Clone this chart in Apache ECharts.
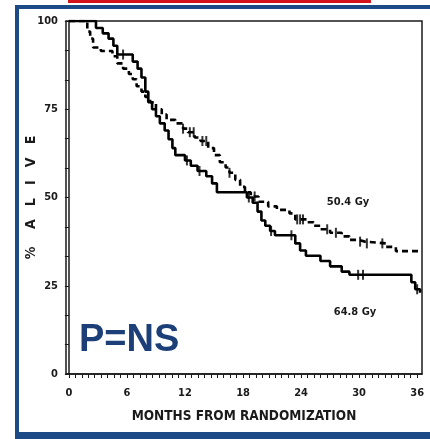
<!DOCTYPE html>
<html>
<head>
<meta charset="utf-8">
<style>
  html, body { margin: 0; padding: 0; background: #ffffff; }
  #chart { width: 430px; height: 439px; }
</style>
<script src="https://cdn.jsdelivr.net/npm/echarts@6/dist/echarts.min.js"></script>
</head>
<body>
<div id="chart"></div>
<script>
// Kaplan–Meier survival by radiation dose arm (months from randomization, % alive)
const months648 = [0, 2.8, 3.5, 4.1, 4.6, 5.0, 6.6, 7.1, 7.5, 7.9, 8.2, 8.6, 9.0, 9.4, 9.9, 10.3, 10.7, 11.0, 12.0, 12.6, 13.3, 14.2, 14.8, 15.3, 18.4, 19.0, 19.5, 19.9, 20.3, 20.8, 21.3, 23.4, 23.9, 24.5, 26.0, 27.0, 28.2, 29.0, 35.4, 35.8, 36.3];
const alive648  = [100, 98, 96.5, 95, 93, 90.5, 88.5, 86.5, 84, 80, 77, 75, 73, 71, 69, 66.5, 64, 62, 60.5, 59, 57.5, 56, 54, 51.5, 50, 48.5, 46, 43.5, 42, 40.5, 39.3, 37, 35, 33.5, 32, 30.5, 29, 28.1, 26, 24, 23];
const censor648 = [5.6, 12.2, 13.5, 18.6, 20.9, 23.0, 29.9, 30.4, 36.0];

const months504 = [0, 1.9, 2.2, 2.5, 3.3, 4.5, 5.0, 5.6, 6.2, 6.6, 7.0, 7.5, 7.9, 8.4, 9.0, 9.6, 10.1, 11.0, 11.8, 12.3, 13.0, 13.6, 14.4, 15.0, 15.6, 16.2, 16.6, 17.2, 17.7, 18.2, 18.8, 19.6, 20.6, 21.5, 22.8, 23.4, 24.6, 25.3, 26.0, 27.0, 28.2, 29.0, 29.9, 30.6, 32.8, 33.8, 36.3];
const alive504  = [100, 97, 95, 92.5, 91.5, 90, 88, 86.5, 85, 83.5, 81.5, 80, 78.5, 77, 75, 73.5, 72, 71, 69.5, 68.5, 67, 66, 64, 62, 60, 58.5, 57, 55, 53, 51.5, 50.3, 48.8, 47.5, 46.5, 45.5, 43.8, 43, 42, 41, 40, 39, 38, 37.5, 37, 36, 34.8, 34.8];
const censor504 = [8.2, 11.8, 12.5, 12.9, 13.8, 14.2, 16.6, 19.2, 23.6, 23.9, 24.2, 26.7, 27.6, 30.1, 30.8, 32.4];

const xLabelValues = [0, 6, 12, 18, 24, 30, 36];
const yLabelValues = [0, 25, 50, 75, 100];

const xTitle = 'MONTHS FROM RANDOMIZATION';
const yTitle = '%    A   L   I   V   E';
const doseLabelHigh = '64.8 Gy';
const doseLabelLow = '50.4 Gy';
const pValueText = 'P=NS';

// pair the step curve points
function curve(months, alive) {
  return months.map((m, i) => [m, alive[i]]);
}
// survival level of a step curve at time t (for censoring ticks)
function levelAt(months, alive, t) {
  let v = alive[0];
  for (let i = 0; i < months.length; i++) {
    if (months[i] <= t) v = alive[i];
  }
  return v;
}
function censorPoints(times, months, alive) {
  return times.map(t => [t, levelAt(months, alive, t)]);
}

// minor tick positions
const xTicks = [];
for (let k = 0; k <= 54; k++) xTicks.push(k * 2 / 3);
const yTicks = [];
for (let k = 0; k <= 12; k++) yTicks.push(k * 25 / 3);

const sans = '"Liberation Sans Narrow", "DejaVu Sans Condensed", "Liberation Sans", Arial, sans-serif';
const wide = '"Liberation Sans", Arial, sans-serif';
const ink = '#1a1a1a';

const chart = echarts.init(document.getElementById('chart'), null, { renderer: 'canvas' });

chart.setOption({
  animation: false,
  backgroundColor: '#ffffff',
  grid: {
    left: 66, right: 8, top: 21, bottom: 65,
    show: true, borderColor: ink, borderWidth: 1.5, backgroundColor: '#ffffff'
  },
  xAxis: {
    type: 'value', min: -0.3, max: 36.5,
    splitLine: { show: false },
    axisLine: { lineStyle: { color: ink, width: 1.5 } },
    axisTick: { show: true, length: 4, customValues: xTicks, lineStyle: { color: ink, width: 1 } },
    axisLabel: {
      customValues: xLabelValues, margin: 14,
      color: ink, fontFamily: sans, fontWeight: 'bold', fontSize: 11
    },
    name: xTitle,
    nameLocation: 'middle', nameGap: 35, nameMoveOverlap: false,
    nameTextStyle: { color: ink, fontFamily: sans, fontWeight: 'bold', fontSize: 13.5 }
  },
  yAxis: {
    type: 'value', min: 0, max: 100,
    splitLine: { show: false },
    axisLine: { show: true, lineStyle: { color: ink, width: 1.5 } },
    axisTick: { show: true, length: 4, customValues: yTicks, lineStyle: { color: ink, width: 1 } },
    axisLabel: {
      customValues: yLabelValues, margin: 8,
      color: ink, fontFamily: sans, fontWeight: 'bold', fontSize: 11
    },
    name: yTitle,
    nameLocation: 'middle', nameRotate: 90, nameGap: 28, nameMoveOverlap: false,
    nameTextStyle: { color: ink, fontFamily: sans, fontWeight: 'bold', fontSize: 14 }
  },
  series: [
    {
      name: doseLabelHigh, type: 'line', step: 'end', showSymbol: false,
      data: curve(months648, alive648),
      lineStyle: { color: '#000000', width: 2.6, type: 'solid' }
    },
    {
      name: doseLabelLow, type: 'line', step: 'end', showSymbol: false,
      data: curve(months504, alive504),
      lineStyle: { color: '#000000', width: 2.6, type: [6, 4] }
    },
    {
      name: doseLabelHigh + ' censored', type: 'scatter',
      data: censorPoints(censor648, months648, alive648),
      symbol: 'rect', symbolSize: [2, 10],
      itemStyle: { color: '#000000' }
    },
    {
      name: doseLabelLow + ' censored', type: 'scatter',
      data: censorPoints(censor504, months504, alive504),
      symbol: 'rect', symbolSize: [2, 10],
      itemStyle: { color: '#000000' }
    }
  ],
  graphic: [
    // slide frame
    { type: 'rect', shape: { x: 15, y: 5, width: 430, height: 4 }, style: { fill: '#1b4a86' }, silent: true },
    { type: 'rect', shape: { x: 15, y: 5, width: 4, height: 434 }, style: { fill: '#1b4a86' }, silent: true },
    { type: 'rect', shape: { x: 15, y: 432, width: 430, height: 7 }, style: { fill: '#1b4a86' }, silent: true },
    { type: 'rect', shape: { x: 68, y: 0, width: 303, height: 3 }, style: { fill: '#d3141c' }, silent: true },
    // annotations
    { type: 'text', x: 348, y: 202, style: { text: doseLabelLow, fill: ink, font: 'bold 11px ' + sans, textAlign: 'center', textVerticalAlign: 'middle' } },
    { type: 'text', x: 355, y: 312, style: { text: doseLabelHigh, fill: ink, font: 'bold 11px ' + sans, textAlign: 'center', textVerticalAlign: 'middle' } },
    { type: 'text', x: 79, y: 341, style: { text: pValueText, fill: '#1d3f78', font: 'bold 38px ' + wide, textAlign: 'left', textVerticalAlign: 'middle' } }
  ]
});
</script>
</body>
</html>
